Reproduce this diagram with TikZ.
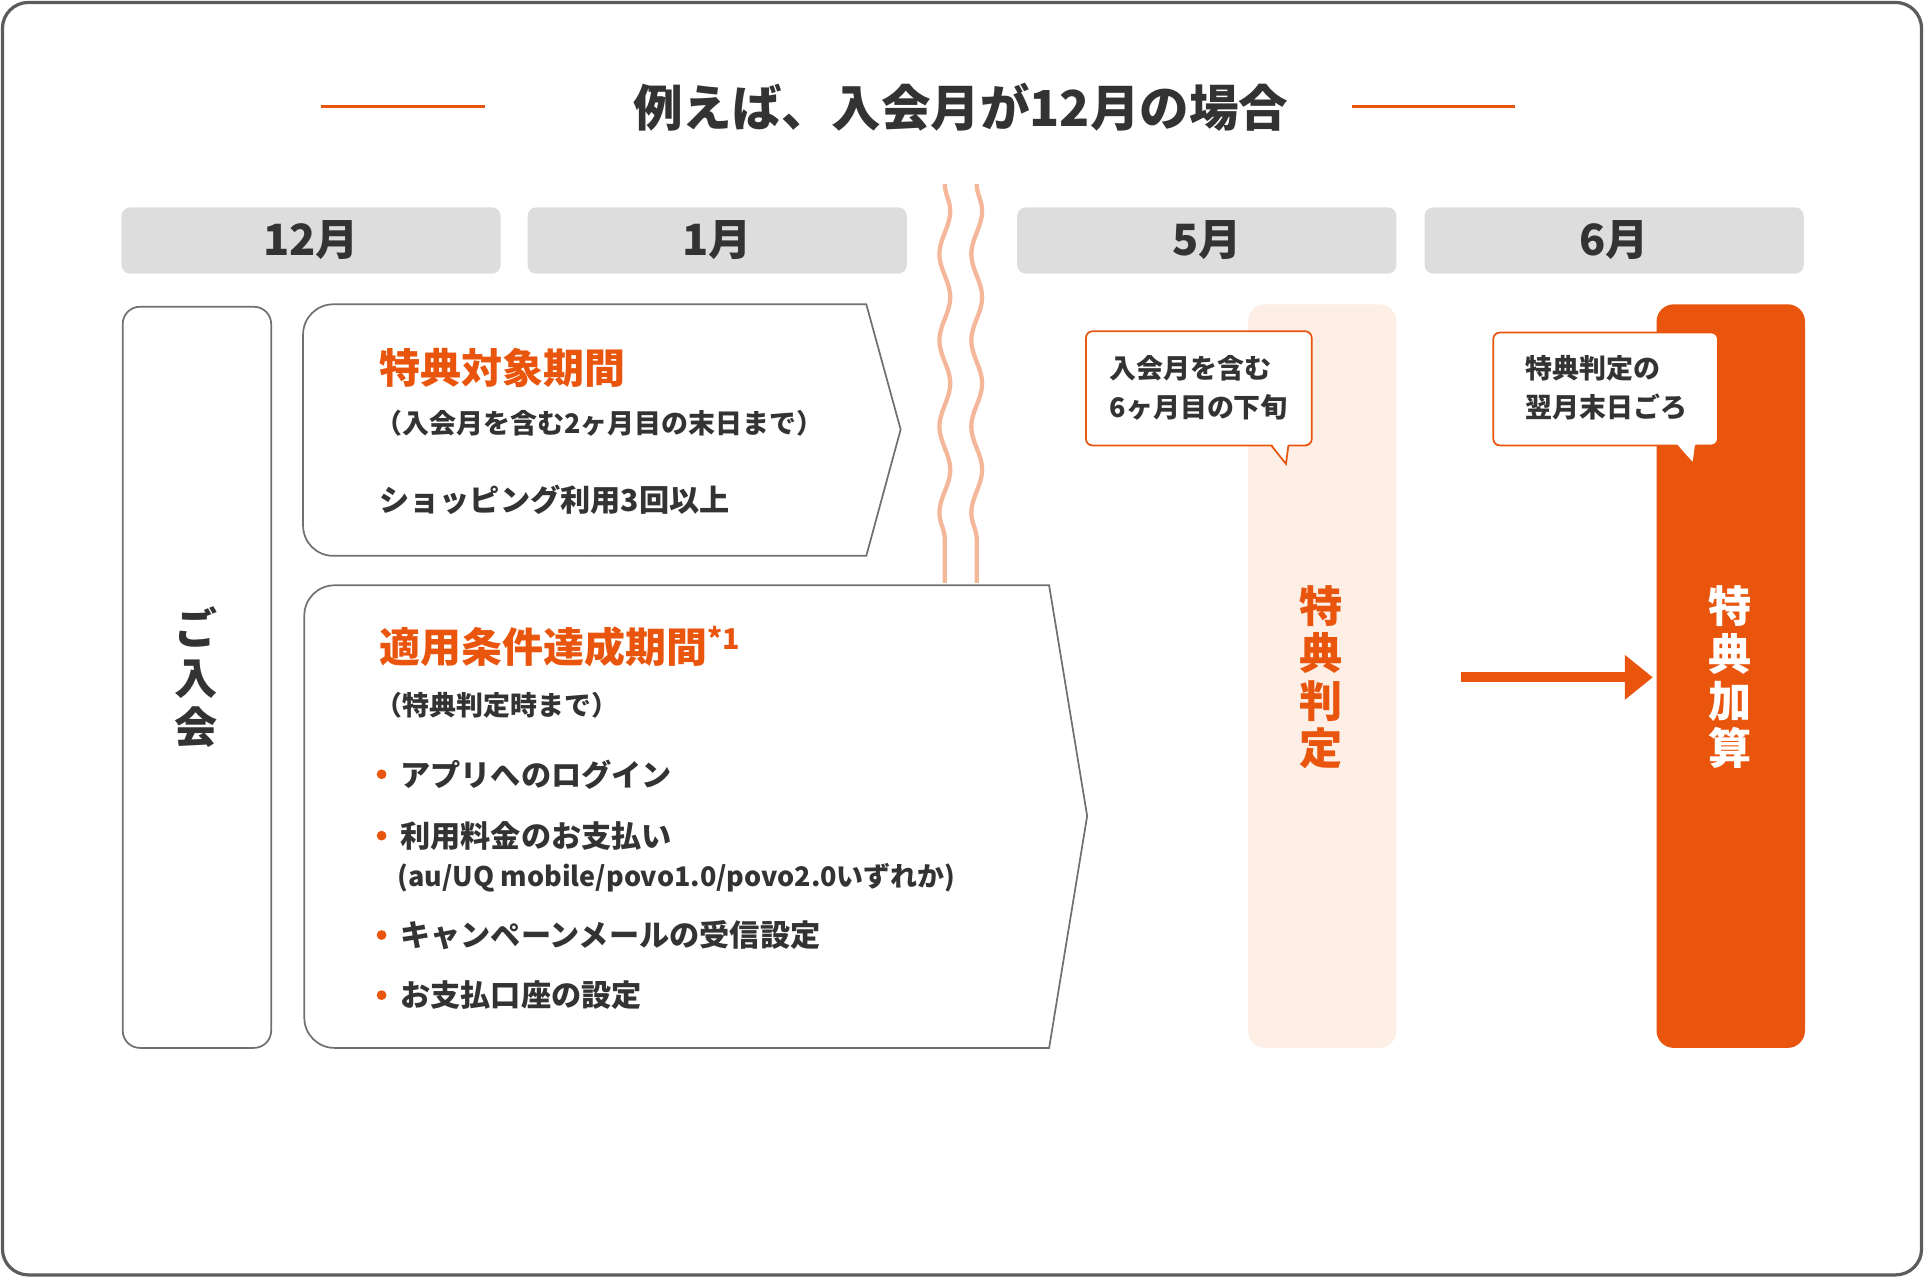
\documentclass[tikz,border=0pt]{standalone}
\usepackage{fontspec}
\setmainfont{Noto Sans CJK JP}
\usetikzlibrary{positioning, decorations.pathmorphing, arrows.meta}
\definecolor{brand}{HTML}{E9550D}
\definecolor{palebrand}{HTML}{FDEEE6}
\definecolor{wave}{HTML}{F5B79A}
\definecolor{ink}{HTML}{333333}
\definecolor{bar}{HTML}{DDDDDD}
\tikzset{
  monthbar/.style={fill=bar, rounded corners=4pt},
  panel/.style={draw=ink!70, line width=0.8pt, rounded corners=8pt},
  callout/.style={draw=brand, fill=white, line width=0.8pt, rounded corners=3pt},
  item/.style={anchor=west, font=\fontsize{14}{16}\selectfont\bfseries, text=ink},
  dot/.style={circle, fill=brand, inner sep=1.6pt},
}
\begin{document}
\begin{tikzpicture}[x=0.02cm, y=-0.02cm]
  \useasboundingbox (0,0) rectangle (1568,1041);
  \draw[line width=1.5pt, draw=ink!80, rounded corners=12pt] (2,2) rectangle (1566,1039);

  % title
  \node[text=ink, font=\fontsize{23}{26}\selectfont\bfseries] (title) at (783,87) {例えば、入会月が12月の場合};
  \draw[brand, line width=1.5pt] (262,87) -- (395,87) (1102,87) -- (1235,87);

  % months
  \foreach \x/\m [count=\i] in {99/12, 430/1, 829/5, 1161/6} {
    \fill[monthbar] (\x,169) rectangle ++(309,54);
    \node[text=ink, font=\fontsize{20}{22}\selectfont\bfseries] (m\i) at (\x+154.5,196) {\m 月};
  }

  % wavy gap
  \foreach \x in {770,796}
    \draw[wave, line width=2pt, decorate, decoration={snake, amplitude=2.5pt, segment length=40pt}] (\x,150) -- (\x,475);

  % join
  \draw[panel] (100,250) rectangle (221,854);
  \node[text=ink, font=\fontsize{20}{23}\selectfont\bfseries, align=center] (join) at (160,552) {ご\\入\\会};

  % period 1
  \draw[draw=ink!70, line width=0.8pt] (480,248) -- (706,248) -- (734,350) -- (706,453) -- (480,453);
  \draw[panel, rounded corners=14pt] (480,453) -- (247,453) -- (247,248) -- (480,248);
  \node[anchor=west, text=brand, font=\fontsize{19}{22}\selectfont\bfseries] (p1) at (303,300) {特典対象期間};
  \node[anchor=west, text=ink, font=\fontsize{12.5}{14}\selectfont\bfseries] (p1sub) at (300,345) {（入会月を含む2ヶ月目の末日まで）};
  \node[item] (p1item) at (303,407) {ショッピング利用3回以上};

  % period 2
  \draw[draw=ink!70, line width=0.8pt] (480,477) -- (855,477) -- (886,665) -- (855,854) -- (480,854);
  \draw[panel, rounded corners=14pt] (480,854) -- (248,854) -- (248,477) -- (480,477);
  \node[anchor=west, text=brand, font=\fontsize{19}{22}\selectfont\bfseries] (p2) at (303,527) {適用条件達成期間\textsuperscript{*1}};
  \node[anchor=west, text=ink, font=\fontsize{12.5}{14}\selectfont\bfseries] (p2sub) at (300,575) {（特典判定時まで）};
  \foreach \y/\t [count=\i] in {631/アプリへのログイン, 681/利用料金のお支払い, 762/キャンペーンメールの受信設定, 811/お支払口座の設定} {
    \node[dot] (d\i) at (311,\y) {};
    \node[item] (it\i) at (320,\y) {\t};
  }
  \node[anchor=west, text=ink, font=\fontsize{12.5}{14}\selectfont\bfseries] (it2b) at (318,715) {(au/UQ mobile/povo1.0/povo2.0いずれか)};

  % judgement
  \fill[palebrand, rounded corners=8pt] (1017,248) rectangle (1138,854);
  \node[text=brand, font=\fontsize{20}{22}\selectfont\bfseries, align=center] (judge) at (1077,552) {特\\典\\判\\定};
  \draw[callout] (885,270) rectangle (1069,363);
  \fill[white] (1036,361) -- (1048,378) -- (1050,361) -- cycle;
  \draw[brand, line width=0.8pt] (1036,363) -- (1048,378) -- (1050,363);
  \node[text=ink, font=\fontsize{12.5}{18}\selectfont\bfseries, align=left] (c1) at (977,316) {入会月を含む\\6ヶ月目の下旬};

  % bonus
  \fill[brand, rounded corners=8pt] (1350,248) rectangle (1471,854);
  \node[text=white, font=\fontsize{20}{22}\selectfont\bfseries, align=center] (bonus) at (1410,552) {特\\典\\加\\算};
  \draw[callout] (1217,271) rectangle (1400,363);
  \fill[white] (1366,361) -- (1380,378) -- (1382,361) -- cycle;
  \draw[brand, line width=0.8pt] (1366,363) -- (1380,378) -- (1382,363);
  \node[text=ink, font=\fontsize{12.5}{18}\selectfont\bfseries, align=left] (c2) at (1309,316) {特典判定の\\翌月末日ごろ};

  \coordinate (arrS) at (1191,552);
  \coordinate (arrE) at (1347,552);
  \draw[brand, line width=4.5pt, -{Triangle[length=13pt, width=20pt]}] (arrS) -- (arrE);
\end{tikzpicture}
\end{document}
